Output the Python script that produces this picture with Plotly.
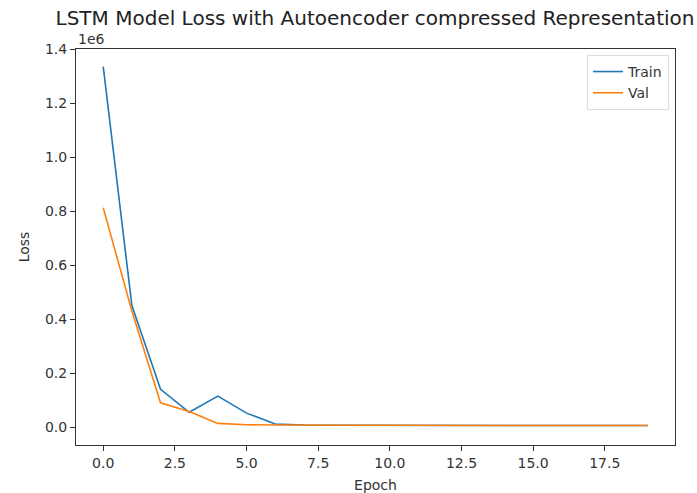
import plotly.graph_objects as go

epochs = list(range(20))
train_loss = [1335000, 450000, 140000, 55000, 115000, 52000, 12000, 8000, 7000, 7000,
              8000, 7000, 6500, 6500, 6000, 6000, 6000, 6000, 6000, 6000]
val_loss = [812000, 430000, 90000, 58000, 14000, 9000, 8000, 7000, 7000, 7000,
            7000, 6500, 6500, 6000, 6000, 6000, 6000, 6000, 6000, 6000]

y_tickvals = [0, 200000, 400000, 600000, 800000, 1000000, 1200000, 1400000]
y_ticktext = ["0.0", "0.2", "0.4", "0.6", "0.8", "1.0", "1.2", "1.4"]
x_tickvals = [0, 2.5, 5, 7.5, 10, 12.5, 15, 17.5]
x_ticktext = ["0.0", "2.5", "5.0", "7.5", "10.0", "12.5", "15.0", "17.5"]

font = "DejaVu Sans"

fig = go.Figure()
fig.add_trace(go.Scatter(x=epochs, y=train_loss, mode="lines", name="Train",
                         line=dict(color="#1f77b4", width=1.6)))
fig.add_trace(go.Scatter(x=epochs, y=val_loss, mode="lines", name="Val",
                         line=dict(color="#ff7f0e", width=1.6)))

axis_common = dict(showline=True, linecolor="#333333", linewidth=1, mirror=True,
                   ticks="outside", ticklen=5, tickcolor="#333333", tickwidth=1,
                   showgrid=False, zeroline=False, automargin=False,
                   tickfont=dict(family=font, size=14, color="#333333"))

fig.update_layout(
    width=697, height=493,
    margin=dict(l=76, r=22, t=49, b=48),
    paper_bgcolor="white", plot_bgcolor="white",
    title=dict(text="LSTM Model Loss with Autoencoder compressed Representation",
               x=0.538, xanchor="center", y=0.963, yanchor="middle",
               font=dict(family=font, size=20, color="#222222")),
    xaxis=dict(range=[-0.95, 19.95], tickvals=x_tickvals, ticktext=x_ticktext,
               title=dict(text="Epoch", font=dict(family=font, size=14, color="#333333"), standoff=10),
               **axis_common),
    yaxis=dict(range=[-66000, 1400000], tickvals=y_tickvals, ticktext=y_ticktext,
               title=dict(text="Loss", font=dict(family=font, size=14, color="#333333"), standoff=12),
               **axis_common),
    legend=dict(x=0.99, y=0.985, xanchor="right", yanchor="top",
                bgcolor="rgba(255,255,255,0.8)", bordercolor="#dddddd", borderwidth=1,
                font=dict(family=font, size=14, color="#333333")),
    showlegend=True,
)
fig.add_annotation(text="1e6", xref="paper", yref="paper", x=0, y=1.0,
                   xanchor="left", yanchor="bottom", showarrow=False,
                   font=dict(family=font, size=14, color="#333333"))

fig.write_html("out.html")
